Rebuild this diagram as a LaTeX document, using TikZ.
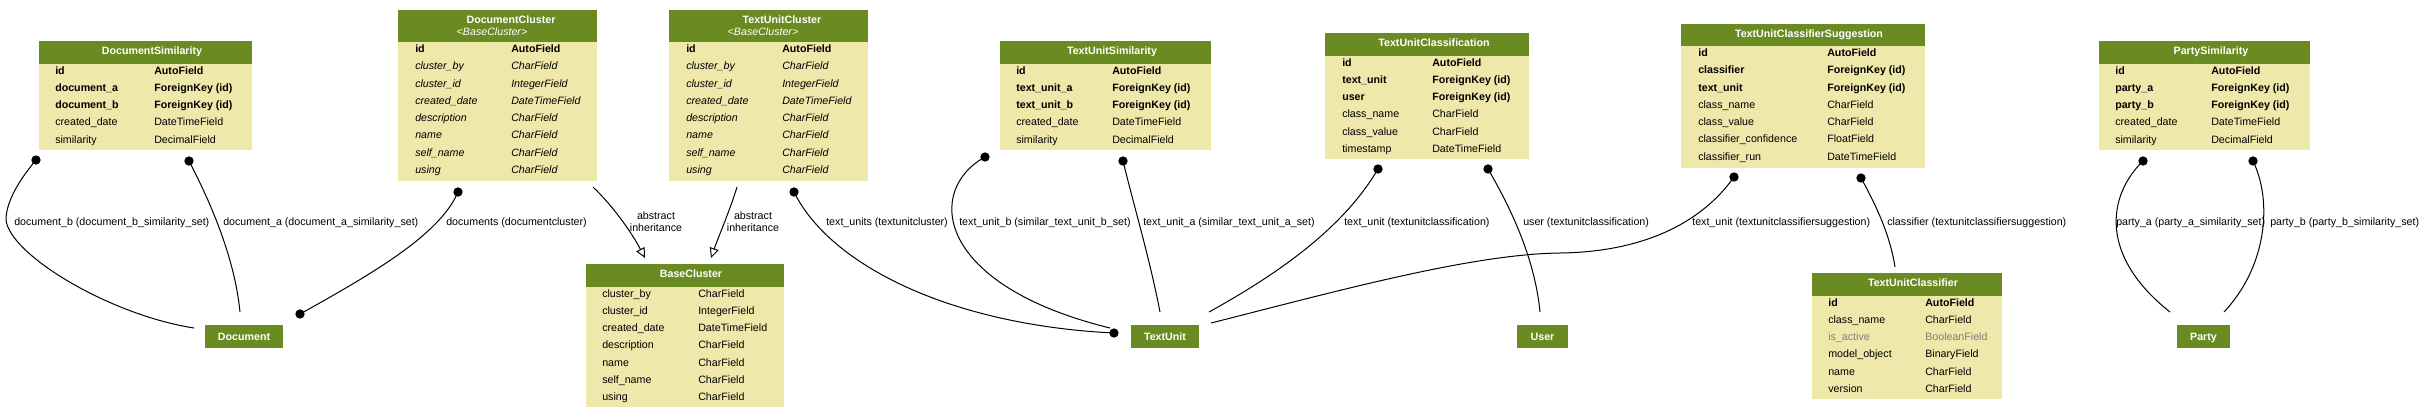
\documentclass[tikz,border=0pt]{standalone}
\usepackage{fontspec}
\setmainfont{Liberation Sans}
\usetikzlibrary{arrows.meta,fit}
\definecolor{hdrgreen}{HTML}{698B22}
\definecolor{bodyyellow}{HTML}{EEE8AA}
\definecolor{grayfld}{HTML}{7F7F7F}
\newcommand\dbbox[6]{%
  \node[hdrbox,fit={(#2,#3) (#5,#4)}] (#1-h) {};
  \node[bodybox,fit={(#2,#4) (#5,#6)}] (#1-b) {};}
\newcommand\dbfld[7]{%
  \node[fld,#7] (#1n) at (#3,#2) {#5};
  \node[fld,#7] (#1t) at (#4,#2) {#6};}
\begin{document}
\begin{tikzpicture}[x=0.75pt,y=-0.75pt,
  hdrbox/.style={fill=hdrgreen,inner sep=0pt,draw=none},
  bodybox/.style={fill=bodyyellow,inner sep=0pt,draw=none},
  fld/.style={anchor=base west,inner sep=0pt},
  fb/.style={font=\bfseries},
  fi/.style={font=\itshape},
  fg/.style={text=grayfld},
  ttl/.style={anchor=base,inner sep=0pt,text=white,font=\bfseries},
  subttl/.style={anchor=base,inner sep=0pt,text=white,font=\itshape},
  smallnode/.style={fill=hdrgreen,text=white,font=\bfseries,inner xsep=10pt,inner ysep=0pt,minimum height=17.25pt,text height=5.8pt,text depth=0pt},
  elabel/.style={anchor=base west,inner sep=0pt},
  ilabel/.style={align=center,inner sep=0pt},
  edge/.style={line width=0.75pt},
  inh/.style={line width=0.75pt,-{Triangle[open,length=7.5pt,width=7pt]}},
  dotc/.style={radius=3.5pt}]
\fontsize{8}{9}\selectfont
\useasboundingbox (0,0) rectangle (2424,419);
\fill[white] (0,0) rectangle (2424,419);

% ---------- DocumentSimilarity
\dbbox{dsim}{39}{41}{64}{252}{150}
\node[ttl] (dsim-title) at (152,54) {DocumentSimilarity};
\dbfld{dsim-1}{74}{55}{154}{id}{AutoField}{fb}
\dbfld{dsim-2}{91.25}{55}{154}{document\_a}{ForeignKey (id)}{fb}
\dbfld{dsim-3}{108.5}{55}{154}{document\_b}{ForeignKey (id)}{fb}
\dbfld{dsim-4}{125.75}{55}{154}{created\_date}{DateTimeField}{}
\dbfld{dsim-5}{143}{55}{154}{similarity}{DecimalField}{}

% ---------- DocumentCluster
\dbbox{dclu}{398}{10}{42}{597}{181}
\node[ttl] (dclu-title) at (511,23) {DocumentCluster};
\node[subttl] (dclu-sub) at (492,35) {<BaseCluster>};
\dbfld{dclu-1}{52.5}{415}{511}{id}{AutoField}{fb}
\dbfld{dclu-2}{69.75}{415}{511}{cluster\_by}{CharField}{fi}
\dbfld{dclu-3}{87}{415}{511}{cluster\_id}{IntegerField}{fi}
\dbfld{dclu-4}{104.25}{415}{511}{created\_date}{DateTimeField}{fi}
\dbfld{dclu-5}{121.5}{415}{511}{description}{CharField}{fi}
\dbfld{dclu-6}{138.75}{415}{511}{name}{CharField}{fi}
\dbfld{dclu-7}{156}{415}{511}{self\_name}{CharField}{fi}
\dbfld{dclu-8}{173.25}{415}{511}{using}{CharField}{fi}

% ---------- TextUnitCluster
\dbbox{tuclu}{669}{10}{42}{868}{181}
\node[ttl] (tuclu-title) at (782,23) {TextUnitCluster};
\node[subttl] (tuclu-sub) at (763,35) {<BaseCluster>};
\dbfld{tuclu-1}{52.5}{686}{782}{id}{AutoField}{fb}
\dbfld{tuclu-2}{69.75}{686}{782}{cluster\_by}{CharField}{fi}
\dbfld{tuclu-3}{87}{686}{782}{cluster\_id}{IntegerField}{fi}
\dbfld{tuclu-4}{104.25}{686}{782}{created\_date}{DateTimeField}{fi}
\dbfld{tuclu-5}{121.5}{686}{782}{description}{CharField}{fi}
\dbfld{tuclu-6}{138.75}{686}{782}{name}{CharField}{fi}
\dbfld{tuclu-7}{156}{686}{782}{self\_name}{CharField}{fi}
\dbfld{tuclu-8}{173.25}{686}{782}{using}{CharField}{fi}

% ---------- BaseCluster
\dbbox{bclu}{586}{264}{287}{784}{407}
\node[ttl] (bclu-title) at (691,277) {BaseCluster};
\dbfld{bclu-1}{297}{602}{698}{cluster\_by}{CharField}{}
\dbfld{bclu-2}{314.25}{602}{698}{cluster\_id}{IntegerField}{}
\dbfld{bclu-3}{331.5}{602}{698}{created\_date}{DateTimeField}{}
\dbfld{bclu-4}{348.75}{602}{698}{description}{CharField}{}
\dbfld{bclu-5}{366}{602}{698}{name}{CharField}{}
\dbfld{bclu-6}{383.25}{602}{698}{self\_name}{CharField}{}
\dbfld{bclu-7}{400.5}{602}{698}{using}{CharField}{}

% ---------- TextUnitSimilarity
\dbbox{tusim}{1000}{41}{64}{1211}{150}
\node[ttl] (tusim-title) at (1112,54) {TextUnitSimilarity};
\dbfld{tusim-1}{74}{1016}{1112}{id}{AutoField}{fb}
\dbfld{tusim-2}{91.25}{1016}{1112}{text\_unit\_a}{ForeignKey (id)}{fb}
\dbfld{tusim-3}{108.5}{1016}{1112}{text\_unit\_b}{ForeignKey (id)}{fb}
\dbfld{tusim-4}{125.75}{1016}{1112}{created\_date}{DateTimeField}{}
\dbfld{tusim-5}{143}{1016}{1112}{similarity}{DecimalField}{}

% ---------- TextUnitClassification
\dbbox{tucl}{1325}{33}{56}{1529}{159}
\node[ttl] (tucl-title) at (1434,46) {TextUnitClassification};
\dbfld{tucl-1}{66}{1342}{1432}{id}{AutoField}{fb}
\dbfld{tucl-2}{83.25}{1342}{1432}{text\_unit}{ForeignKey (id)}{fb}
\dbfld{tucl-3}{100.5}{1342}{1432}{user}{ForeignKey (id)}{fb}
\dbfld{tucl-4}{117.75}{1342}{1432}{class\_name}{CharField}{}
\dbfld{tucl-5}{135}{1342}{1432}{class\_value}{CharField}{}
\dbfld{tucl-6}{152.25}{1342}{1432}{timestamp}{DateTimeField}{}

% ---------- TextUnitClassifierSuggestion
\dbbox{tucs}{1681}{24}{46}{1925}{168}
\node[ttl] (tucs-title) at (1809,37) {TextUnitClassifierSuggestion};
\dbfld{tucs-1}{56.5}{1698}{1827}{id}{AutoField}{fb}
\dbfld{tucs-2}{73.75}{1698}{1827}{classifier}{ForeignKey (id)}{fb}
\dbfld{tucs-3}{91}{1698}{1827}{text\_unit}{ForeignKey (id)}{fb}
\dbfld{tucs-4}{108.25}{1698}{1827}{class\_name}{CharField}{}
\dbfld{tucs-5}{125.5}{1698}{1827}{class\_value}{CharField}{}
\dbfld{tucs-6}{142.75}{1698}{1827}{classifier\_confidence}{FloatField}{}
\dbfld{tucs-7}{160}{1698}{1827}{classifier\_run}{DateTimeField}{}

% ---------- TextUnitClassifier
\dbbox{tucf}{1812}{273}{296}{2002}{399}
\node[ttl] (tucf-title) at (1913,286) {TextUnitClassifier};
\dbfld{tucf-1}{306}{1828}{1925}{id}{AutoField}{fb}
\dbfld{tucf-2}{323.25}{1828}{1925}{class\_name}{CharField}{}
\dbfld{tucf-3}{340.5}{1828}{1925}{is\_active}{BooleanField}{fg}
\dbfld{tucf-4}{357.75}{1828}{1925}{model\_object}{BinaryField}{}
\dbfld{tucf-5}{375}{1828}{1925}{name}{CharField}{}
\dbfld{tucf-6}{392.25}{1828}{1925}{version}{CharField}{}

% ---------- PartySimilarity
\dbbox{psim}{2099}{41}{64}{2310}{150}
\node[ttl] (psim-title) at (2211,54) {PartySimilarity};
\dbfld{psim-1}{74}{2115}{2211}{id}{AutoField}{fb}
\dbfld{psim-2}{91.25}{2115}{2211}{party\_a}{ForeignKey (id)}{fb}
\dbfld{psim-3}{108.5}{2115}{2211}{party\_b}{ForeignKey (id)}{fb}
\dbfld{psim-4}{125.75}{2115}{2211}{created\_date}{DateTimeField}{}
\dbfld{psim-5}{143}{2115}{2211}{similarity}{DecimalField}{}

% ---------- small nodes
\node[smallnode] (doc) at (244,336.5) {Document};
\node[smallnode] (tu) at (1165,336.5) {TextUnit};
\node[smallnode] (user) at (1542.5,336.5) {User};
\node[smallnode] (party) at (2203.5,336.5) {Party};

% ---------- connector ends
\coordinate (dsb) at (36,160);
\coordinate (dsb-end) at (194,328);
\coordinate (dsa) at (189,161);
\coordinate (dsa-end) at (240,312);
\coordinate (dcd) at (458,192);
\coordinate (dcd-end) at (300,314);
\coordinate (dci) at (593,187);
\coordinate (bci1) at (645,258);
\coordinate (tci) at (737,187);
\coordinate (bci2) at (711,258);
\coordinate (tcu) at (794,192);
\coordinate (tcu-end) at (1114,333);
\coordinate (tsb) at (985,157);
\coordinate (tsb-end) at (1110,328);
\coordinate (tsa) at (1123,161);
\coordinate (tsa-end) at (1160,312);
\coordinate (tct) at (1378,169);
\coordinate (tct-end) at (1209,312);
\coordinate (tcus) at (1488,169);
\coordinate (tcus-end) at (1540,312);
\coordinate (tst) at (1734,177);
\coordinate (tst-mid) at (1560,253);
\coordinate (tst-end) at (1211,323);
\coordinate (tsc) at (1861,178);
\coordinate (tsc-end) at (1895,267);
\coordinate (psa) at (2143,161);
\coordinate (psa-end) at (2170,312);
\coordinate (psb) at (2253,161);
\coordinate (psb-end) at (2224,312);

% ---------- connectors
\draw[edge] (dsb) .. controls (15,185) and (6,205) .. (6,220) .. controls (10,255) and (110,315) .. (dsb-end);
\draw[edge] (dsa) .. controls (212,205) and (235,260) .. (dsa-end);
\draw[edge] (dcd) .. controls (440,235) and (370,275) .. (dcd-end);
\draw[inh] (dci) .. controls (615,208) and (633,235) .. (bci1);
\draw[inh] (tci) .. controls (730,210) and (718,238) .. (bci2);
\draw[edge] (tcu) .. controls (830,265) and (950,325) .. (tcu-end);
\draw[edge] (tsb) .. controls (925,190) and (935,285) .. (tsb-end);
\draw[edge] (tsa) .. controls (1135,210) and (1150,260) .. (tsa-end);
\draw[edge] (tct) .. controls (1345,225) and (1285,270) .. (tct-end);
\draw[edge] (tcus) .. controls (1512,210) and (1535,260) .. (tcus-end);
\draw[edge] (tst) .. controls (1700,225) and (1640,252) .. (tst-mid) .. controls (1470,254) and (1330,293) .. (tst-end);
\draw[edge] (tsc) .. controls (1876,205) and (1890,235) .. (tsc-end);
\draw[edge] (psa) .. controls (2108,195) and (2098,255) .. (psa-end);
\draw[edge] (psb) .. controls (2272,200) and (2268,265) .. (psb-end);

\foreach \c in {dsb,dsa,dcd,dcd-end,tcu,tcu-end,tsb,tsa,tct,tcus,tst,tsc,psa,psb}
  \fill[dotc] (\c) circle;

% ---------- connector labels
\node[elabel] (l1) at (14,225) {document\_b (document\_b\_similarity\_set)};
\node[elabel] (l2) at (223,225) {document\_a (document\_a\_similarity\_set)};
\node[elabel] (l3) at (446,225) {documents (documentcluster)};
\node[ilabel] (l4) at (656,222) {abstract\\inheritance};
\node[ilabel] (l5) at (753,222) {abstract\\inheritance};
\node[elabel] (l6) at (826,225) {text\_units (textunitcluster)};
\node[elabel] (l7) at (959,225) {text\_unit\_b (similar\_text\_unit\_b\_set)};
\node[elabel] (l8) at (1143,225) {text\_unit\_a (similar\_text\_unit\_a\_set)};
\node[elabel] (l9) at (1344,225) {text\_unit (textunitclassification)};
\node[elabel] (l10) at (1523,225) {user (textunitclassification)};
\node[elabel] (l11) at (1692,225) {text\_unit (textunitclassifiersuggestion)};
\node[elabel] (l12) at (1887,225) {classifier (textunitclassifiersuggestion)};
\node[elabel] (l13) at (2116,225) {party\_a (party\_a\_similarity\_set)};
\node[elabel] (l14) at (2270,225) {party\_b (party\_b\_similarity\_set)};
\end{tikzpicture}
\end{document}
